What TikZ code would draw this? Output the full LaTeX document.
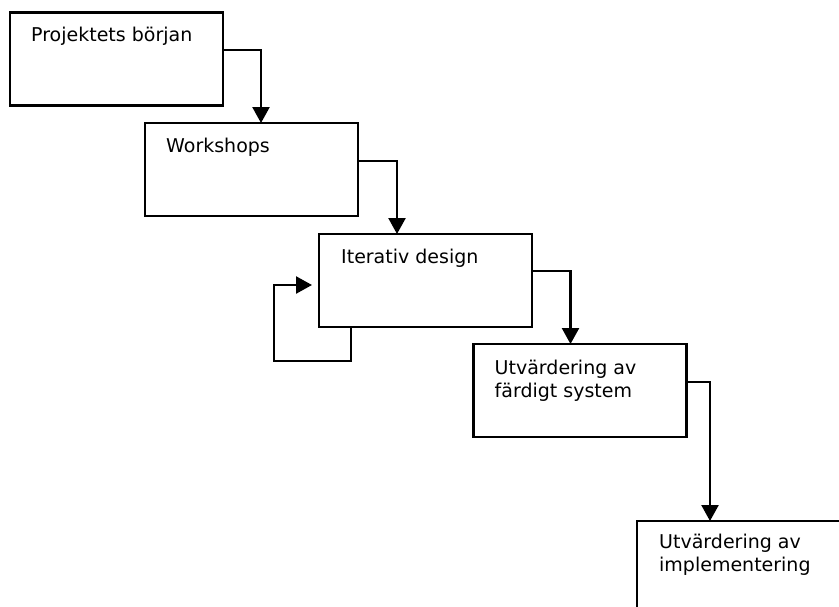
\documentclass[tikz,border=0pt]{standalone}
\usepackage{fontspec}
\setmainfont{DejaVu Sans}
\usetikzlibrary{arrows.meta,calc}
\begin{document}
\begin{tikzpicture}[x=1pt,y=-1pt,
  box/.style={draw,line width=2.2pt,minimum width=213pt,minimum height=93pt,
    inner sep=0pt,outer sep=0pt},
  lbl/.style={anchor=base west,inner sep=0pt,align=left,
    font=\fontsize{19}{23}\selectfont},
  flow/.style={line width=2.4pt,-{Triangle[width=17pt,length=16pt]}},
  ]
\useasboundingbox (0,0) rectangle (839,606);
\clip (0,0) rectangle (839,606);

% process steps
\node[box] (b1) at (116.5,59) {};
\node[box] (b2) at (251.5,169.5) {};
\node[box] (b3) at (425.5,280.5) {};
\node[box] (b4) at (580,390.5) {};
\node[box] (b5) at (743.5,567.5) {};

% step titles in the upper left corner of each box
% (base anchor of a two-line title sits on its last line)
\node[lbl] (t1) at ($(b1.north west)+(21,29)$) {Projektets början};
\node[lbl] (t2) at ($(b2.north west)+(21,29)$) {Workshops};
\node[lbl] (t3) at ($(b3.north west)+(22,29)$) {Iterativ design};
\node[lbl] (t4) at ($(b4.north west)+(21,53.5)$) {Utvärdering av\\färdigt system};
\node[lbl] (t5) at ($(b5.north west)+(22,50.5)$) {Utvärdering av\\implementering};

% flow from one step to the next
\draw[flow] ([yshift=9pt]b1.east) -| ([xshift=9.5pt]b2.north);
\draw[flow] ([yshift=8.5pt]b2.east) -| ([xshift=-28.5pt]b3.north);
\draw[flow] ([yshift=9.5pt]b3.east) -| ([xshift=-9.5pt]b4.north);
\draw[flow] ([yshift=8.5pt]b4.east) -| ([xshift=-33.5pt]b5.north);

% iteration loop back into the design step
\coordinate (lp) at (274,361);
\draw[flow,shorten >=7pt] ([xshift=-74.5pt]b3.south) |- (lp) |- ([yshift=-4.5pt]b3.west);
\end{tikzpicture}
\end{document}
